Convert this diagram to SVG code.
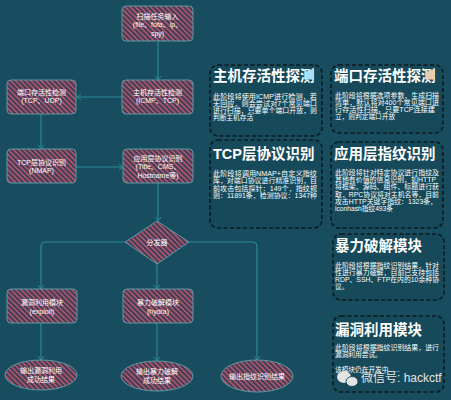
<svg xmlns="http://www.w3.org/2000/svg" width="451" height="400" viewBox="0 0 451 400">
<defs>
<pattern id="hatch" patternUnits="userSpaceOnUse" width="3.6" height="3.6" patternTransform="rotate(-45)">
<rect width="3.6" height="3.6" fill="#3b3e54"/>
<rect width="1.6" height="3.6" fill="#b5566f"/>
</pattern>
<marker id="arr" markerUnits="userSpaceOnUse" markerWidth="8" markerHeight="8" refX="5" refY="4" orient="auto">
<path d="M1,1 L5,4 L1,7" fill="none" stroke="#2a8c9c" stroke-width="1"/>
</marker>
<style>
.node{fill:url(#hatch);stroke:#5d98a5;stroke-width:1}
.nt{font-family:"Liberation Sans","Noto Sans CJK SC",sans-serif;font-size:7px;fill:#ffffff;text-anchor:middle}
.conn{fill:none;stroke:#2a8c9c;stroke-width:1.1;marker-end:url(#arr)}
.card{fill:#164a5a;stroke:#0c1a20;stroke-width:1.6;stroke-dasharray:4 2.5}
.ct{font-family:"Liberation Sans","Noto Sans CJK SC",sans-serif;font-size:14.5px;font-weight:bold;fill:#ffffff}
.cb{font-family:"Liberation Sans","Noto Sans CJK SC",sans-serif;font-size:6.7px;fill:#ffffff}
.wm{font-family:"Liberation Sans","Noto Sans CJK SC",sans-serif;font-size:12px;fill:#e4e4e4}
</style>
</defs>
<rect width="451" height="400" fill="#174d5e"/>

<g id="connectors">
<path class="conn" d="M158,41 V80"/>
<path class="conn" d="M122,97 H77"/>
<path class="conn" d="M41,113 V149"/>
<path class="conn" d="M76,167 H123"/>
<path class="conn" d="M158,183 V221"/>
<path class="conn" d="M125,242 H46 Q41,242 41,247 V289"/>
<path class="conn" d="M157,264 V289"/>
<path class="conn" d="M189,242 H252 Q257,242 257,247 V360"/>
<path class="conn" d="M41,323 V360"/>
<path class="conn" d="M157,323 V361"/>
</g>

<g id="input">
<rect class="node" x="122" y="6" width="71" height="35" rx="4"/>
<text class="nt" x="157.5" y="18.5">扫描任务输入</text>
<text class="nt" x="157.5" y="27">(file、fofa、ip、</text>
<text class="nt" x="157.5" y="35.5">spy)</text>
</g>
<g id="host">
<rect class="node" x="122" y="80" width="71" height="34" rx="4"/>
<text class="nt" x="157.5" y="94.5">主机存活性检测</text>
<text class="nt" x="157.5" y="103">(ICMP、TCP)</text>
</g>
<g id="port">
<rect class="node" x="7" y="80" width="69" height="34" rx="4"/>
<text class="nt" x="41.5" y="94.5">端口存活性检测</text>
<text class="nt" x="41.5" y="103">(TCP、UDP)</text>
</g>
<g id="tcp">
<rect class="node" x="7" y="149" width="69" height="34" rx="4"/>
<text class="nt" x="41.5" y="165">TCP层协议识别</text>
<text class="nt" x="41.5" y="173">(NMAP)</text>
</g>
<g id="app">
<rect class="node" x="123" y="149" width="70" height="34" rx="4"/>
<text class="nt" x="158" y="160.5">应用层协议识别</text>
<text class="nt" x="158" y="169">(Title、CMS、</text>
<text class="nt" x="158" y="177.5">Hostname等)</text>
</g>
<g id="dispatcher">
<polygon class="node" points="157,221 189,242 157,264 125,242"/>
<text class="nt" x="157" y="244.5">分发器</text>
</g>
<g id="exploit">
<rect class="node" x="7" y="289" width="70" height="34" rx="4"/>
<text class="nt" x="42" y="305">漏洞利用模块</text>
<text class="nt" x="42" y="313.5">(exploit)</text>
</g>
<g id="hydra">
<rect class="node" x="123" y="289" width="70" height="34" rx="4"/>
<text class="nt" x="158" y="305">暴力破解模块</text>
<text class="nt" x="158" y="313.5">(hydra)</text>
</g>
<g id="out-exploit">
<ellipse class="node" cx="41" cy="375" rx="36" ry="15"/>
<text class="nt" x="41" y="373">输出漏洞利用</text>
<text class="nt" x="41" y="382">成功结果</text>
</g>
<g id="out-hydra">
<ellipse class="node" cx="157" cy="376" rx="36" ry="15"/>
<text class="nt" x="157" y="374">输出暴力破解</text>
<text class="nt" x="157" y="383">成功结果</text>
</g>
<g id="out-finger">
<ellipse class="node" cx="257" cy="376" rx="36" ry="16"/>
<text class="nt" x="257" y="378.5">输出指纹识别结果</text>
</g>

<g id="card-host">
<rect class="card" x="210" y="65" width="112" height="71" rx="8"/>
<text class="ct" x="213" y="81">主机存活性探测</text>
<text class="cb" x="213" y="98.5" textLength="104" lengthAdjust="spacingAndGlyphs">此阶段将使用ICMP进行检测，若</text>
<text class="cb" x="213" y="105.5" textLength="104" lengthAdjust="spacingAndGlyphs">无回应，则会尝试对7个常见端口</text>
<text class="cb" x="213" y="112.5" textLength="104" lengthAdjust="spacingAndGlyphs">进行扫描，只要单个端口开放，则</text>
<text class="cb" x="213" y="119.5">判断主机存活</text>
</g>
<g id="card-port">
<rect class="card" x="331" y="65" width="112" height="68" rx="8"/>
<text class="ct" x="334" y="81">端口存活性探测</text>
<text class="cb" x="335" y="97.5" textLength="104" lengthAdjust="spacingAndGlyphs">此阶段将根据选项参数，生成扫描</text>
<text class="cb" x="335" y="104.5" textLength="104" lengthAdjust="spacingAndGlyphs">清单，默认将对400个常见端口进</text>
<text class="cb" x="335" y="111.5" textLength="100" lengthAdjust="spacingAndGlyphs">行存活性扫描，只要TCP连接建</text>
<text class="cb" x="335" y="118.5">立，则判定端口开放</text>
</g>
<g id="card-tcp">
<rect class="card" x="210" y="140" width="112" height="88" rx="8"/>
<text class="ct" x="213" y="159">TCP层协议识别</text>
<text class="cb" x="213" y="175.5" textLength="104" lengthAdjust="spacingAndGlyphs">此阶段将调用NMAP+自定义指纹</text>
<text class="cb" x="213" y="183" textLength="104" lengthAdjust="spacingAndGlyphs">库，对端口协议进行精准识别，目</text>
<text class="cb" x="213" y="190.5" textLength="104" lengthAdjust="spacingAndGlyphs">前攻击包括探针：149个，指纹规</text>
<text class="cb" x="213" y="198" textLength="104" lengthAdjust="spacingAndGlyphs">则：11891条，检测协议：1347种</text>
</g>
<g id="card-app">
<rect class="card" x="331" y="142" width="112" height="86" rx="8"/>
<text class="ct" x="334" y="159">应用层指纹识别</text>
<text class="cb" x="335" y="175" textLength="104" lengthAdjust="spacingAndGlyphs">此阶段将针对特定协议进行指纹及</text>
<text class="cb" x="335" y="182.2" textLength="101" lengthAdjust="spacingAndGlyphs">其他有价值的信息识别，如HTTP</text>
<text class="cb" x="335" y="189.4" textLength="104" lengthAdjust="spacingAndGlyphs">将框架、源码、组件、标题进行获</text>
<text class="cb" x="335" y="196.6" textLength="104" lengthAdjust="spacingAndGlyphs">取，RPC协议将对主机名等，目前</text>
<text class="cb" x="335" y="203.8" textLength="102" lengthAdjust="spacingAndGlyphs">攻击HTTP关键字指纹：1323条，</text>
<text class="cb" x="335" y="211">iconhash指纹493条</text>
</g>
<g id="card-hydra">
<rect class="card" x="333" y="234" width="111" height="66" rx="8"/>
<text class="ct" x="335" y="251">暴力破解模块</text>
<text class="cb" x="335" y="267.5" textLength="104" lengthAdjust="spacingAndGlyphs">此阶段将根据指纹识别结果，针对</text>
<text class="cb" x="335" y="274.5" textLength="104" lengthAdjust="spacingAndGlyphs">性进行暴力破解，目前已支持包括</text>
<text class="cb" x="335" y="281.5" textLength="104" lengthAdjust="spacingAndGlyphs">RDP、SSH、FTP在内的10余种协</text>
<text class="cb" x="335" y="288.5">议。</text>
</g>
<g id="card-exploit">
<rect class="card" x="333" y="316" width="111" height="76" rx="8"/>
<text class="ct" x="335" y="335">漏洞利用模块</text>
<text class="cb" x="335" y="349.5" textLength="104" lengthAdjust="spacingAndGlyphs">此阶段将根据指纹识别结果，进行</text>
<text class="cb" x="335" y="357">漏洞利用尝试。</text>
<text class="cb" x="335" y="371.5">该模块仍在开发中......</text>
</g>
<g id="watermark">
<ellipse cx="344" cy="377" rx="7" ry="6" fill="#e4e4e4"/>
<ellipse cx="352" cy="381.5" rx="6" ry="5" fill="#e4e4e4" stroke="#174d5e" stroke-width="1"/>
<text class="wm" x="361" y="382">微信号: hackctf</text>
</g>
</svg>
